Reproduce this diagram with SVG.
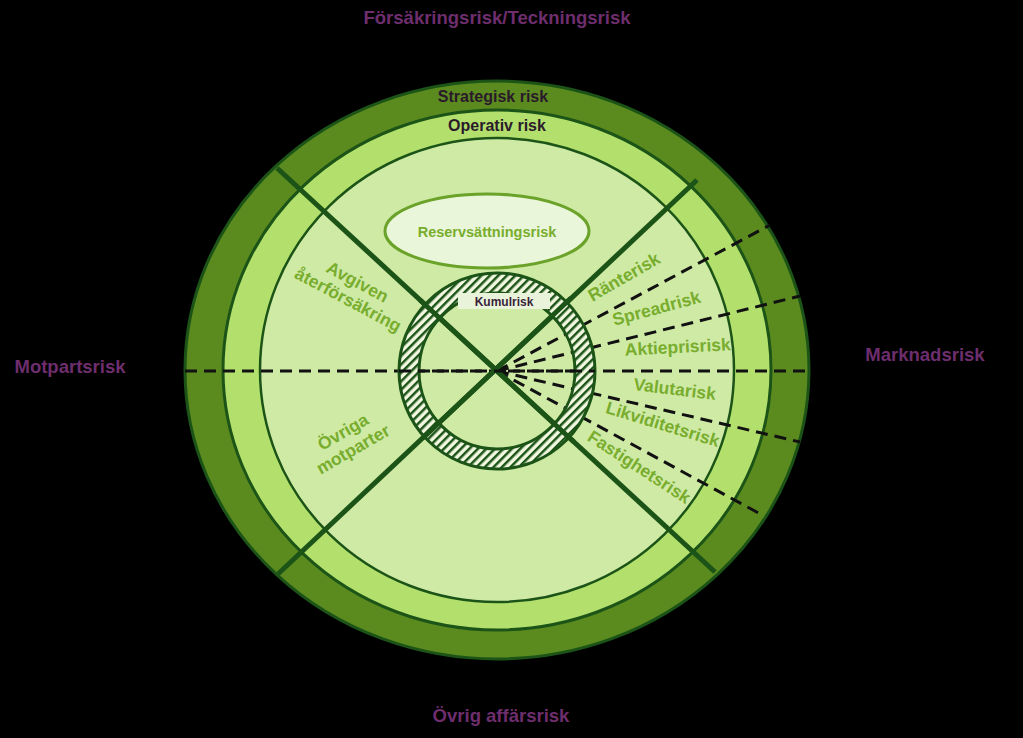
<svg xmlns="http://www.w3.org/2000/svg" width="1023" height="738" viewBox="0 0 1023 738">
<style>
.p{font-family:"Liberation Sans",Arial,sans-serif;font-weight:bold;font-size:18.5px;fill:#6e2e6e}
.g{font-family:"Liberation Sans",Arial,sans-serif;font-weight:bold;font-size:17.5px;fill:#78ad2e}
.b{stroke:#1c5418;fill:none}
.d{stroke:#111;stroke-width:3;stroke-dasharray:12 7;fill:none}
</style>
<defs><pattern id="h" width="6" height="6" patternUnits="userSpaceOnUse" patternTransform="rotate(45)"><rect width="6" height="6" fill="#f2f8e0"/><rect width="2.5" height="6" fill="#1c5418"/></pattern></defs>
<rect width="1023" height="738" fill="#000"/>
<g id="rings">
<ellipse cx="497" cy="370" rx="312" ry="289" fill="#5b8a1f" stroke="#1c5418" stroke-width="3"/>
<ellipse cx="497" cy="370" rx="274" ry="260" fill="#b3e06d" stroke="#1c5418" stroke-width="3"/>
<ellipse cx="497" cy="370" rx="237" ry="232" fill="#cfeaa5" stroke="#1c5418" stroke-width="2.5"/>
</g>
<g id="connectors">
<line class="b" stroke-width="5" x1="277" y1="168" x2="715" y2="572"/>
<line class="b" stroke-width="5" x1="697" y1="180" x2="278" y2="574"/>
<line class="d" x1="185" y1="371" x2="809" y2="371"/>
<line class="d" x1="497" y1="371" x2="770" y2="225"/>
<line class="d" x1="497" y1="371" x2="800" y2="296"/>
<line class="d" x1="497" y1="371" x2="800" y2="442"/>
<line class="d" x1="497" y1="371" x2="764" y2="516"/>
</g>
<g id="kumul">
<circle cx="497" cy="371" r="88" fill="none" stroke="url(#h)" stroke-width="20"/>
<circle cx="497" cy="371" r="98" class="b" stroke-width="3"/>
<circle cx="497" cy="371" r="78" class="b" stroke-width="3"/>
<line class="b" stroke-width="5" x1="420" y1="300" x2="574" y2="442"/>
<line class="b" stroke-width="5" x1="571" y1="298" x2="423" y2="438"/>
<line class="d" x1="399" y1="371" x2="595" y2="371"/>
<rect x="458" y="293" width="92" height="16" fill="#e8f3da"/>
<text x="504" y="306" text-anchor="middle" style="font-family:'Liberation Sans',Arial,sans-serif;font-weight:bold;font-size:12px;fill:#3a1f3a">Kumulrisk</text>
</g>
<g id="reserv">
<ellipse cx="487" cy="231" rx="102" ry="37" fill="#eaf6d9" stroke="#6aa22a" stroke-width="3"/>
<text class="g" x="487" y="237" text-anchor="middle" style="font-size:14.5px">Reservsättningsrisk</text>
</g>
<g id="labels">
<text class="p" x="497" y="24" text-anchor="middle">Försäkringsrisk/Teckningsrisk</text>
<text class="p" x="501" y="722" text-anchor="middle">Övrig affärsrisk</text>
<text class="p" x="70" y="373" text-anchor="middle">Motpartsrisk</text>
<text class="p" x="925" y="361" text-anchor="middle">Marknadsrisk</text>
<text x="493" y="102" text-anchor="middle" style="font-family:'Liberation Sans',Arial,sans-serif;font-weight:bold;font-size:16px;fill:#2a1a2a">Strategisk risk</text>
<text x="497" y="131" text-anchor="middle" style="font-family:'Liberation Sans',Arial,sans-serif;font-weight:bold;font-size:16px;fill:#2a1a2a">Operativ risk</text>
<text class="g" transform="translate(350,296) rotate(28)" text-anchor="middle"><tspan x="0" y="-10">Avgiven</tspan><tspan x="0" y="10">återförsäkring</tspan></text>
<text class="g" transform="translate(350,444) rotate(-30)" text-anchor="middle"><tspan x="0" y="-8">Övriga</tspan><tspan x="0" y="12">motparter</tspan></text>
<text class="g" transform="translate(627,282) rotate(-30)" text-anchor="middle">Ränterisk</text>
<text class="g" transform="translate(658,314) rotate(-15)" text-anchor="middle">Spreadrisk</text>
<text class="g" transform="translate(678,353) rotate(-3)" text-anchor="middle">Aktieprisrisk</text>
<text class="g" transform="translate(674,395) rotate(7)" text-anchor="middle">Valutarisk</text>
<text class="g" transform="translate(661,430) rotate(17)" text-anchor="middle">Likviditetsrisk</text>
<text class="g" transform="translate(636,472) rotate(33)" text-anchor="middle">Fastighetsrisk</text>
</g>
</svg>
